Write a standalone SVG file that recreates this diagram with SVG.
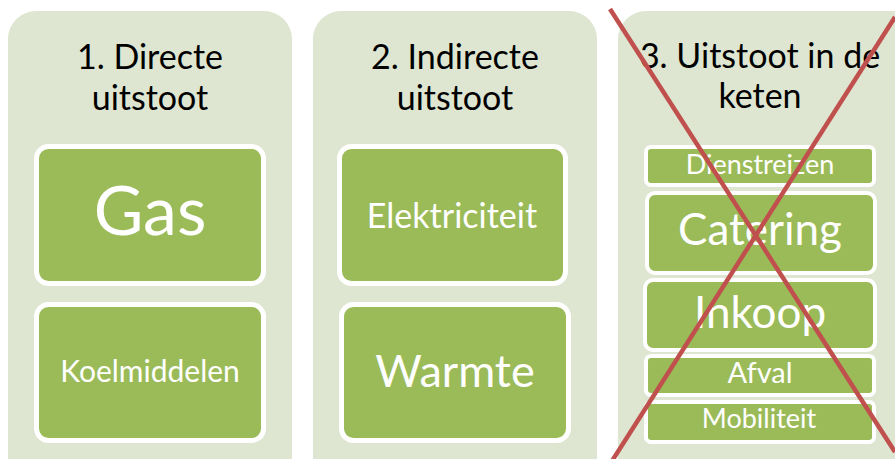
<svg xmlns="http://www.w3.org/2000/svg" width="895" height="459" viewBox="0 0 895 459">
<style>
.panel{fill:#DEE6D1}
.box{fill:#9BBB59;stroke:#FFFFFF;stroke-width:5}
.sbox{fill:#9BBB59;stroke:#FFFFFF;stroke-width:4}
.title{font-family:Lato,"Liberation Sans",sans-serif;font-size:34px;fill:#000000;text-anchor:middle}
.lbl{font-family:Lato,"Liberation Sans",sans-serif;fill:#FFFFFF;text-anchor:middle}
.cross{stroke:#C0504D;stroke-width:4.5;fill:none}
</style>
<rect width="895" height="459" fill="#FFFFFF"/>
<g id="panel1">
<rect class="panel" x="8" y="11" width="284" height="480" rx="28"/>
<text class="title" x="150" y="69">1. Directe</text>
<text class="title" x="150" y="110">uitstoot</text>
</g>
<g id="gas">
<rect class="box" x="36.5" y="146.5" width="227" height="137" rx="12"/>
<text class="lbl" x="150" y="235" font-size="68">Gas</text>
</g>
<g id="koelmiddelen">
<rect class="box" x="36.5" y="304.5" width="227" height="136" rx="12"/>
<text class="lbl" x="150" y="382" font-size="30">Koelmiddelen</text>
</g>
<g id="panel2">
<rect class="panel" x="313" y="11" width="284" height="480" rx="28"/>
<text class="title" x="455" y="69">2. Indirecte</text>
<text class="title" x="455" y="110">uitstoot</text>
</g>
<g id="elektriciteit">
<rect class="box" x="339.5" y="146.5" width="226" height="137" rx="12"/>
<text class="lbl" x="452" y="228" font-size="34">Elektriciteit</text>
</g>
<g id="warmte">
<rect class="box" x="341.5" y="304.5" width="227" height="136" rx="12"/>
<text class="lbl" x="455" y="387" font-size="45">Warmte</text>
</g>
<g id="panel3">
<rect class="panel" x="618" y="11" width="320" height="480" rx="28"/>
<text class="title" x="760" y="68">3. Uitstoot in de</text>
<text class="title" x="760" y="108">keten</text>
</g>
<g id="dienstreizen">
<rect class="sbox" x="646" y="147" width="228" height="38" rx="5"/>
<text class="lbl" x="760" y="174" font-size="27">Dienstreizen</text>
</g>
<g id="catering">
<rect class="sbox" x="647" y="193" width="228" height="80" rx="8"/>
<text class="lbl" x="760" y="245" font-size="44">Catering</text>
</g>
<g id="inkoop">
<rect class="sbox" x="645" y="280" width="230" height="70" rx="8"/>
<text class="lbl" x="760" y="328" font-size="44">Inkoop</text>
</g>
<g id="afval">
<rect class="sbox" x="646" y="356" width="228" height="39" rx="5"/>
<text class="lbl" x="760" y="383" font-size="29">Afval</text>
</g>
<g id="mobiliteit">
<rect class="sbox" x="646" y="402" width="228" height="40" rx="5"/>
<text class="lbl" x="759" y="428" font-size="27">Mobiliteit</text>
</g>
<g id="connectors">
<line class="cross" x1="610" y1="9" x2="895" y2="452"/>
<line class="cross" x1="895" y1="17" x2="612" y2="461"/>
</g>
</svg>
